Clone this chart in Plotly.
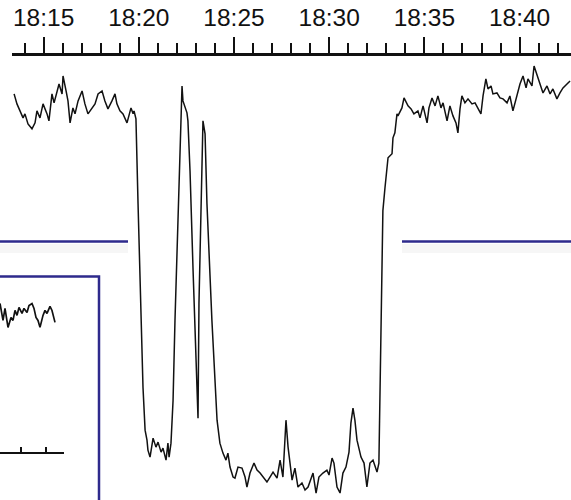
import pandas as pd
import plotly.graph_objects as go

# ---- main recording: minutes after 18:00 and signal level ----
minutes = [
    13.45, 13.60, 13.76, 13.92, 14.02, 14.18, 14.39, 14.55, 14.65, 14.81,
    14.97, 15.18, 15.28, 15.44, 15.55, 15.70, 15.81, 15.97, 16.02, 16.18,
    16.28, 16.39, 16.54, 16.65, 16.81, 17.02, 17.17, 17.33, 17.54, 17.70,
    17.86, 18.07, 18.22, 18.38, 18.59, 18.75, 18.85, 19.01, 19.17, 19.38,
    19.59, 19.70, 19.75, 19.85, 19.96, 20.12, 20.22, 20.33, 20.43, 20.48,
    20.59, 20.75, 20.90, 21.01, 21.17, 21.27, 21.43, 21.53, 21.59, 21.69,
    21.80, 21.90, 22.11, 22.22, 22.27, 22.32, 22.43, 22.53, 22.58, 22.69,
    22.85, 23.00, 23.11, 23.16, 23.27, 23.32, 23.37, 23.48, 23.58, 23.84,
    24.00, 24.11, 24.26, 24.42, 24.58, 24.68, 24.79, 24.95, 25.05, 25.21,
    25.42, 25.58, 25.68, 25.84, 26.05, 26.21, 26.37, 26.52, 26.73, 26.89,
    27.05, 27.26, 27.42, 27.57, 27.68, 27.73, 27.84, 28.05, 28.20, 28.36,
    28.57, 28.73, 28.89, 29.15, 29.31, 29.46, 29.67, 29.88, 29.99, 30.15,
    30.25, 30.41, 30.57, 30.72, 30.88, 31.04, 31.14, 31.25, 31.35, 31.46,
    31.67, 31.83, 31.98, 32.14, 32.30, 32.51, 32.61, 32.67, 32.72, 32.77,
    32.82, 32.93, 33.09, 33.30, 33.35, 33.45, 33.56, 33.61, 33.82, 33.93,
    34.14, 34.30, 34.45, 34.66, 34.77, 34.93, 35.14, 35.24, 35.40, 35.56,
    35.71, 35.87, 35.98, 36.19, 36.34, 36.50, 36.66, 36.76, 36.87, 36.97,
    37.13, 37.29, 37.50, 37.66, 37.81, 37.97, 38.08, 38.23, 38.34, 38.50,
    38.60, 38.81, 38.97, 39.13, 39.34, 39.49, 39.65, 39.86, 40.02, 40.18,
    40.34, 40.44, 40.65, 40.76, 40.91, 41.07, 41.23, 41.44, 41.60, 41.75,
    41.96, 42.12, 42.28, 42.49, 42.65,
]
signal = [
    101.75, 99.25, 97.5, 95.75, 96.75, 94.25, 93.0, 94.5, 97.5, 95.75,
    99.25, 96.75, 95.0, 101.75, 99.5, 102.0, 104.25, 101.75, 106.25, 102.5,
    100.0, 94.5, 98.25, 96.75, 100.0, 102.5, 99.25, 96.75, 98.0, 99.25,
    101.75, 102.5, 100.0, 98.0, 100.0, 101.75, 99.25, 97.5, 96.75, 94.5,
    98.25, 96.75, 97.5, 95.5, 74.25, 49.25, 28.25, 17.5, 15.0, 12.5,
    10.75, 15.5, 13.25, 14.5, 12.0, 13.0, 10.0, 14.25, 10.75, 14.25,
    25.0, 45.0, 75.75, 97.5, 103.75, 100.0, 98.25, 97.0, 95.0, 82.5,
    57.5, 36.75, 20.5, 49.25, 74.25, 87.5, 95.0, 91.75, 74.25, 45.0,
    28.25, 20.0, 14.25, 11.75, 10.0, 11.75, 8.25, 5.75, 5.5, 8.25,
    8.0, 5.75, 3.25, 6.75, 9.25, 7.5, 6.75, 5.75, 4.5, 5.75,
    7.0, 5.5, 10.0, 5.75, 15.0, 20.0, 13.25, 5.0, 8.0, 3.25,
    4.25, 2.5, 3.25, 6.75, 1.75, 5.75, 6.75, 7.5, 6.25, 10.5,
    9.25, 3.25, 1.75, 6.75, 8.25, 12.0, 19.25, 23.0, 20.0, 15.0,
    10.75, 9.25, 3.25, 9.25, 10.0, 7.0, 9.25, 26.75, 43.25, 60.0,
    72.5, 78.25, 85.75, 86.75, 90.75, 92.0, 96.75, 96.25, 98.25, 100.75,
    98.75, 98.0, 96.75, 97.5, 95.75, 98.75, 94.5, 98.25, 100.75, 98.75,
    101.25, 98.25, 99.5, 95.0, 98.75, 96.25, 94.5, 92.0, 98.0, 101.25,
    99.5, 100.5, 99.25, 99.5, 98.25, 96.75, 101.25, 105.5, 103.0, 103.75,
    101.75, 102.0, 100.75, 100.5, 99.5, 101.25, 97.5, 101.75, 104.25, 106.25,
    103.25, 105.5, 103.75, 108.75, 106.75, 104.5, 102.0, 103.75, 101.75, 103.0,
    100.5, 102.0, 103.25, 104.25, 105.0,
]

# ---- inset trace ----
inset_x = [0.0, 0.2, 0.3, 0.5, 0.7, 0.8, 1.1, 1.3, 1.5, 1.7, 1.9, 2.2, 2.4, 2.7,
           2.9, 3.2, 3.4, 3.6, 3.8, 4.0, 4.3, 4.5, 4.7, 5.0, 5.2, 5.4, 5.5]
inset_y = [49.25, 46.75, 45.0, 48.0, 45.0, 43.25, 45.75, 45.0, 47.5, 46.25, 48.25,
           46.75, 48.0, 47.0, 48.75, 49.25, 48.0, 45.75, 45.0, 43.25, 46.25, 47.5,
           46.75, 48.5, 47.5, 45.5, 44.5]
inset_ticks = [2.1, 4.6]

base = pd.Timestamp("2024-01-01 18:00:00")
times = [base + pd.Timedelta(minutes=m) for m in minutes]
x_start = base + pd.Timedelta(minutes=13.34)
x_end = base + pd.Timedelta(minutes=42.70)

BLUE = "#2e2a8c"

fig = go.Figure()
fig.add_trace(go.Scatter(x=times, y=signal, mode="lines",
                         line=dict(color="#111111", width=1.5),
                         hoverinfo="skip", showlegend=False))
fig.add_trace(go.Scatter(x=inset_x, y=inset_y, mode="lines",
                         line=dict(color="#111111", width=1.7),
                         xaxis="x2", yaxis="y2",
                         hoverinfo="skip", showlegend=False))

fig.update_layout(
    width=571, height=500,
    margin=dict(l=0, r=0, t=56, b=0),
    paper_bgcolor="white", plot_bgcolor="white",
    font=dict(family="Liberation Sans, Arial, sans-serif", color="#111111"),
    xaxis=dict(
        type="date", side="top", domain=[12 / 571, 1],
        range=[x_start, x_end],
        tick0=base, dtick=300000, tickformat="%H:%M",
        ticks="outside", ticklen=16, tickwidth=2, tickcolor="#111111",
        showline=True, linewidth=3, linecolor="#111111",
        showgrid=False, zeroline=False,
        tickfont=dict(size=24.5, color="#111111"),
        ticklabelstandoff=1,
        minor=dict(dtick=60000, ticks="outside", ticklen=10, tickwidth=2,
                   tickcolor="#111111", showgrid=False),
    ),
    yaxis=dict(range=[0, 111.25], visible=False, fixedrange=True),
    xaxis2=dict(domain=[0, 64 / 571], range=[0, 6.4], anchor="y2",
                showline=True, linewidth=2, linecolor="#111111",
                ticks="inside", ticklen=5, tickwidth=1.5, tickcolor="#111111",
                tickmode="array", tickvals=inset_ticks, showticklabels=False,
                showgrid=False, zeroline=False),
    yaxis2=dict(domain=[(500 - 452) / 445, (500 - 280) / 445], range=[12, 55],
                anchor="x2", visible=False),
)

shapes = []
# soft shadows under the blue rules
for x0, x1 in [(0, 128 / 571), (402 / 571, 1.0)]:
    shapes.append(dict(type="line", xref="paper", yref="paper",
                       x0=x0, x1=x1, y0=(500 - 248) / 445, y1=(500 - 248) / 445,
                       line=dict(color="rgba(0,0,0,0.035)", width=9)))
    shapes.append(dict(type="line", xref="paper", yref="paper",
                       x0=x0, x1=x1, y0=(500 - 241) / 445, y1=(500 - 241) / 445,
                       line=dict(color=BLUE, width=2.5)))
# inset frame
shapes.append(dict(type="rect", xref="paper", yref="paper",
                   x0=-0.02, x1=99 / 571, y0=-0.02, y1=(500 - 276) / 445,
                   line=dict(color=BLUE, width=2.5), fillcolor="rgba(0,0,0,0)"))
fig.update_layout(shapes=shapes)

fig.write_html("out.html",
               config={"displayModeBar": False, "staticPlot": True},
               post_script="document.body.style.margin='0';document.body.style.overflow='hidden';")
